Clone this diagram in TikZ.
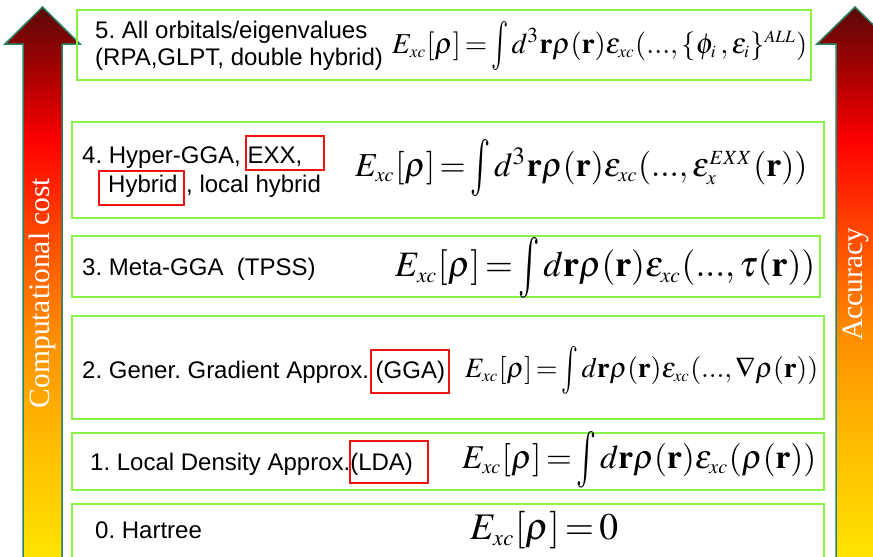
\documentclass[tikz,border=0pt]{standalone}
\usepackage{mathptmx}
\usepackage[no-math]{fontspec}
\setmainfont{Liberation Sans}
\newfontfamily\arrowserif{Liberation Serif}
\usepackage{graphicx}

% colours
\definecolor{boxgreen}{RGB}{140,240,70}
\definecolor{hired}{RGB}{235,20,20}
\definecolor{arrowrim}{RGB}{40,130,100}
\definecolor{heatY}{RGB}{255,230,0}
\definecolor{heatA}{RGB}{255,192,0}
\definecolor{heatB}{RGB}{255,140,0}
\definecolor{heatC}{RGB}{255,70,0}
\definecolor{heatD}{RGB}{255,0,0}
\definecolor{heatE}{RGB}{176,0,0}
\definecolor{heatTop}{RGB}{90,8,8}

% vertical heat scale used for both arrows (path spans 25bp..75bp)
\pgfdeclareverticalshading{heat}{100bp}{%
  color(0bp)=(heatY); color(25bp)=(heatY); color(35bp)=(heatA);
  color(46bp)=(heatB); color(55bp)=(heatC); color(63bp)=(heatD);
  color(68.5bp)=(heatE); color(75bp)=(heatTop); color(100bp)=(heatTop)}

% a taller integral sign centred on the math axis
\newcommand{\tallint}{\mathop{\vcenter{\hbox{\scalebox{1}[1.7]{$\int$}}}}\nolimits}
% tiny indices
\newcommand{\lo}[1]{_{\scriptscriptstyle #1}}
\newcommand{\hi}[1]{^{\scriptscriptstyle #1}}
% tight spacing used in the functionals
\newcommand{\xcfun}[1]{$\thickmuskip=2.5mu\medmuskip=2mu\textstyle #1$}

\tikzset{
  levelbox/.style={draw=boxgreen, line width=2.2pt},
  hilite/.style={draw=hired, line width=1.6pt},
  lbl/.style={anchor=base west, inner sep=0pt, font=\fontsize{24}{27}\selectfont},
  eqn/.style={anchor=west, inner sep=0pt},
  bigarrow/.style={shading=heat, draw=arrowrim, line width=1.5pt},
  arrowtext/.style={text=white, inner sep=0pt, rotate=90,
    font=\arrowserif\fontsize{29.5}{31}\selectfont}
}

\begin{document}
\frenchspacing
\begin{tikzpicture}[x=1pt, y=-1pt]
\useasboundingbox (0,0) rectangle (873,557);
\fill[white] (0,0) rectangle (873,557);

% arrows on both sides
\shadedraw[bigarrow] (23,565) -- (23,44) -- (5,44) -- (42.5,7) -- (80,44)
  -- (62,44) -- (62,565) -- cycle;
\shadedraw[bigarrow] (836,565) -- (836,44) -- (817,44) -- (855,7) -- (893,44)
  -- (874,44) -- (874,565) -- cycle;
\node[arrowtext] (costlbl) at (42,293) {Computational cost};
\node[arrowtext] (acclbl) at (856,284) {Accuracy};

% level frames
\draw[levelbox] (77,10) rectangle (811,80);
\draw[levelbox] (72,122) rectangle (824,218);
\draw[levelbox] (72,236) rectangle (820,297);
\draw[levelbox] (72,316) rectangle (824,419);
\draw[levelbox] (72,433) rectangle (824,490);
\draw[levelbox] (72,504) rectangle (824,570);

% highlighted names
\draw[hilite] (246,136) rectangle (324,170);
\draw[hilite] (99,171) rectangle (184,205);
\draw[hilite] (371,350) rectangle (449,393);
\draw[hilite] (350,441) rectangle (428,483);

% level labels
\node[lbl] (l5a) at (95,38) {5. All orbitals/eigenvalues};
\node[lbl] (l5b) at (95,65) {(RPA,GLPT, double hybrid)};
\node[lbl] (l4a) at (82,163) {4. Hyper-GGA, EXX,};
\node[lbl] (l4b) at (108,192) {Hybrid};
\node[lbl] (l4c) at (186,192) {, local hybrid};
\node[lbl] (l3) at (82,275) {3. Meta-GGA\ \ (TPSS)};
\node[lbl] (l2) at (82,378) {2. Gener. Gradient Approx. (GGA)};
\node[lbl] (l1) at (90,470) {1. Local Density Approx.(LDA)};
\node[lbl] (l0) at (95,538) {0. Hartree};

% exchange-correlation functionals
\node[eqn] (e5) at (392,46) {\resizebox{415pt}{!}{\xcfun{
  E\lo{xc}[\rho]=\tallint d^3\mathbf{r}\rho(\mathbf{r})\varepsilon\lo{xc}(...,\{\phi\lo{i}\,,\varepsilon\lo{i}\}\hi{ALL})}}};
\node[eqn] (e4) at (355,168) {\resizebox{452pt}{!}{\xcfun{
  E\lo{xc}[\rho]=\tallint d^3\mathbf{r}\rho(\mathbf{r})\varepsilon\lo{xc}(...,\varepsilon\lo{x}\hi{EXX}(\mathbf{r}))}}};
\node[eqn] (e3) at (395,268) {\resizebox{420pt}{!}{\xcfun{
  E\lo{xc}[\rho]=\tallint d\mathbf{r}\rho(\mathbf{r})\varepsilon\lo{xc}(...,\tau(\mathbf{r}))}}};
\node[eqn] (e2) at (465,370) {\resizebox{353pt}{!}{\xcfun{
  E\lo{xc}[\rho]=\tallint d\mathbf{r}\rho(\mathbf{r})\varepsilon\lo{xc}(...,\nabla\rho(\mathbf{r}))}}};
\node[eqn] (e1) at (462,460) {\resizebox{354pt}{!}{\xcfun{
  E\lo{xc}[\rho]=\tallint d\mathbf{r}\rho(\mathbf{r})\varepsilon\lo{xc}(\rho(\mathbf{r}))}}};
\node[eqn] (e0) at (470,530) {\resizebox{148pt}{!}{\xcfun{
  E\lo{xc}[\rho]=0}}};
\end{tikzpicture}
\end{document}
